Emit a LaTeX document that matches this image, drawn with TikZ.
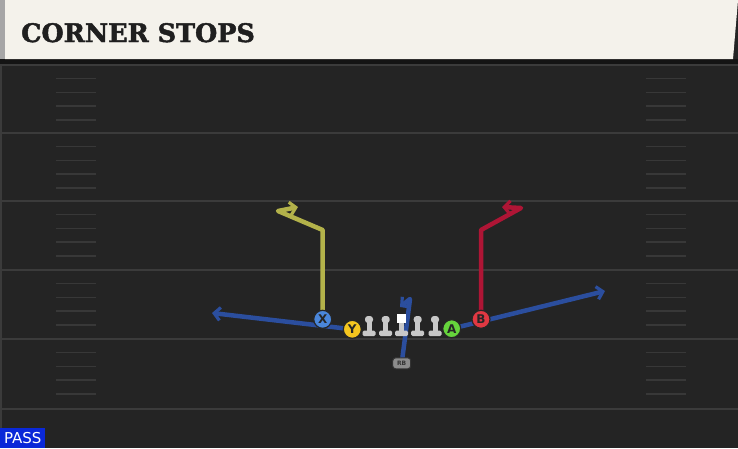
\documentclass[tikz,border=0pt]{standalone}
\usepackage{fontspec}
\setmainfont{DejaVu Sans}
\newfontfamily\titlefont{DejaVu Serif}[FakeBold=1.8]
\usetikzlibrary{arrows.meta}
\definecolor{fieldc}{HTML}{242424}
\definecolor{creamc}{HTML}{F4F2EB}
\definecolor{shadowc}{HTML}{141414}
\definecolor{yardc}{HTML}{3B3B3B}
\definecolor{hashc}{HTML}{383838}
\definecolor{routeyellow}{HTML}{B3B24A}
\definecolor{routered}{HTML}{AE1535}
\definecolor{routeblue}{HTML}{2B4E9E}
\definecolor{xblue}{HTML}{4A86DA}
\definecolor{yyellow}{HTML}{F5C61F}
\definecolor{agreen}{HTML}{66D43C}
\definecolor{bred}{HTML}{E03842}
\definecolor{olgray}{HTML}{C8C8C8}
\definecolor{passblue}{HTML}{0A28D8}
\pgfdeclarelayer{field}
\pgfdeclarelayer{routes}
\pgfsetlayers{field,routes,main}
\tikzstyle{player}=[circle,draw=black!85,line width=1.2pt,minimum size=18pt,inner sep=0pt,font=\bfseries\fontsize{12}{12}\selectfont,text=black!85]
\tikzstyle{route}=[draw,line width=4.5pt,line join=round]
\tikzstyle{routehead}=[-{Straight Barb[length=6pt,width=13pt,line width=3.2pt]}]
\tikzstyle{yardline}=[draw=yardc,line width=2pt]
\tikzstyle{hash}=[draw=hashc,line width=1.5pt]
\tikzstyle{lineman}=[fill=olgray]
\tikzstyle{rbbox}=[rectangle,rounded corners=3pt,draw=black!80,fill=black!45,line width=1pt,minimum width=18pt,minimum height=11pt,inner sep=0pt,font=\bfseries\fontsize{6}{6}\selectfont,text=black!80]

\begin{document}
\begin{tikzpicture}[x=1pt,y=-1pt]
    \useasboundingbox (0,0) rectangle (738,448);
    % Field and title bar
    \begin{pgfonlayer}{field}
    \fill[fieldc] (0,0) rectangle (738,448);
    \foreach \y in {65,133,201,270,339,409}
        \path[yardline] (2,\y) -- (738,\y);
    \foreach \y in {65,133,201,270,339}
        \foreach \k in {1,...,4} {
            \path[hash] (56,{\y+\k*13.7}) -- (96,{\y+\k*13.7});
            \path[hash] (646,{\y+\k*13.7}) -- (686,{\y+\k*13.7});
        }
    \draw[yardc,line width=1.5pt] (1,64) -- (1,448);
    \fill[shadowc] (0,59) rectangle (738,64);
    \fill[creamc] (5,0) -- (738,0) -- (733,59) -- (5,59) -- cycle;
    \fill[black!35] (0,0) rectangle (5,59);
    \end{pgfonlayer}
    \node[anchor=base west,inner sep=0pt,text=black!88,font=\titlefont\bfseries\fontsize{25.5}{25.5}\selectfont] (title) at (21,42) {CORNER STOPS};
    \node[anchor=south west,fill=passblue,text=white,minimum width=45pt,minimum height=20pt,inner sep=0pt,font=\fontsize{15}{15}\selectfont] (pass) at (0,448) {PASS};
    % First we draw the linemen
    \foreach \x/\name in {369/lt,385.7/lg,417.7/rg,435/rt} {
        \coordinate (\name) at (\x,325);
        \fill[lineman, rounded corners=3pt] ([shift={(-4,-9)}]\name) rectangle ([shift={(4,-2)}]\name);
        \fill[lineman] ([shift={(-2.5,-3)}]\name) rectangle ([shift={(2.5,7)}]\name);
        \fill[lineman, rounded corners=1.5pt] ([shift={(-6.5,5.5)}]\name) rectangle ([shift={(6.5,11)}]\name);
    }
    \coordinate (c) at (401.5,325);
    \fill[lineman] ([shift={(-2.5,-2)}]c) rectangle ([shift={(2.5,7)}]c);
    \fill[lineman, rounded corners=1.5pt] ([shift={(-6.5,5.5)}]c) rectangle ([shift={(6.5,11)}]c);
    \fill[white] ([shift={(-4.5,-11)}]c) rectangle ([shift={(4.5,-2)}]c);
    % Then the skill players
    \foreach \pos/\name/\col in {{(322.7,319.3)/X/xblue}, {(352.3,329.3)/Y/yyellow},
                                 {(451.7,328.7)/A/agreen}, {(481,319.3)/B/bred}}
        \node[player, fill=\col] (\name) at \pos {\name};
    \node[rbbox] (rb) at (401.7,363.3) {RB};
    % Routes
    \begin{pgfonlayer}{routes}
    \path[route, draw=routeyellow, routehead] (X.center) -- (322.7,230) -- (278,211) -- (298,207);
    \path[route, draw=routered, routehead] (B.center) -- (481,230) -- (521,208) -- (502,207);
    \path[route, draw=routeblue, routehead] (Y.center) -- (212,313);
    \path[route, draw=routeblue, routehead] (A.center) -- (605,291);
    \path[route, draw=routeblue, routehead] (rb.center) -- (410,299) -- (400,307);
    \end{pgfonlayer}
\end{tikzpicture}
\end{document}
